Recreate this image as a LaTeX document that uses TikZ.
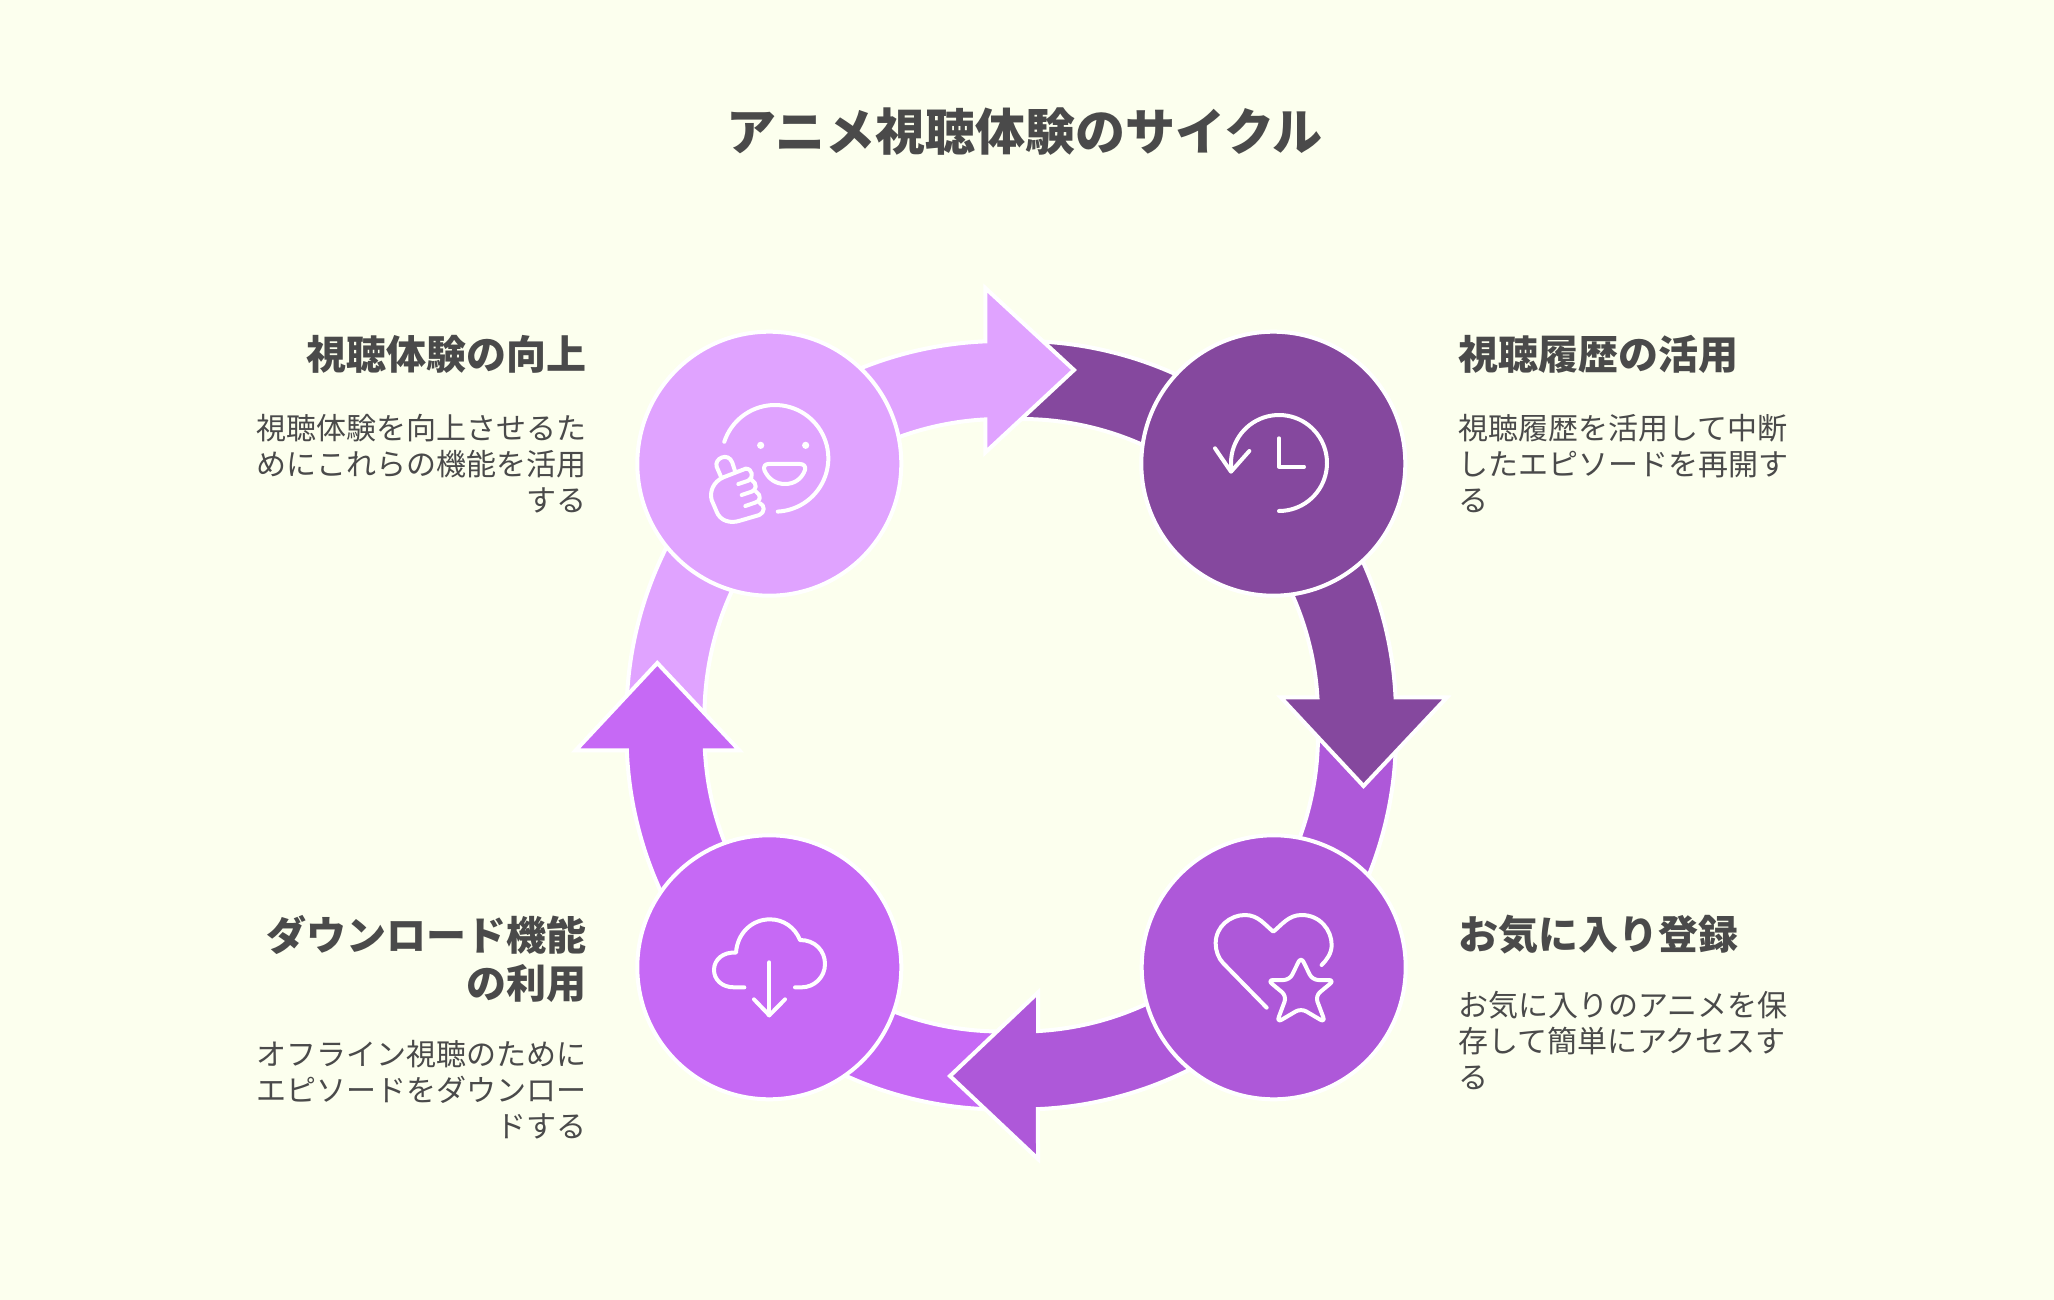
\documentclass[tikz,border=0pt]{standalone}
\usepackage{fontspec}
\newfontfamily\jp{Noto Sans CJK JP}
\definecolor{bgc}{HTML}{FCFFEE}
\definecolor{cLight}{HTML}{E0A3FF}
\definecolor{cDark}{HTML}{85489E}
\definecolor{cMid}{HTML}{AE58D9}
\definecolor{cDeep}{HTML}{C669F5}
\definecolor{ink}{HTML}{4A4A4A}
\newcommand{\ringarc}[5]{plot[domain=#4:#5,samples=50] ({#1+#3*cos(\x)},{#2+#3*sin(\x)})}
\newcommand{\ringto}[5]{-- plot[domain=#4:#5,samples=50] ({#1+#3*cos(\x)},{#2+#3*sin(\x)})}
\tikzset{
  ringshape/.style={draw=white,line width=4pt,line join=miter},
  disc/.style={circle,draw=white,line width=4pt,inner sep=0pt,outer sep=0pt,minimum size=264pt},
  icon/.style={draw=white,line width=4pt,line cap=round,line join=round},
  heading/.style={anchor=north,inner sep=0pt,text=ink,font=\fontsize{40}{48}\selectfont\jp\bfseries},
  bodytext/.style={anchor=north,inner sep=0pt,text=ink,font=\fontsize{30}{36}\selectfont\jp},
}
\begin{document}
\begin{tikzpicture}[x=1pt,y=-1pt]
\useasboundingbox (0,0) rectangle (2054,1300);
\fill[bgc] (0,0) rectangle (2054,1300);
% tails
\draw[ringshape,fill=cLight] \ringarc{1001}{715.5}{374.5}{180}{227} \ringto{1001}{715.5}{296.5}{227}{180} -- cycle;
\draw[ringshape,fill=cDark] \ringarc{1021.5}{715.5}{374.5}{269.5}{315} \ringto{1021.5}{715.5}{296.5}{315}{269.5} -- cycle;
\draw[ringshape,fill=cMid] \ringarc{1021.5}{735}{374.5}{0}{42.6} \ringto{1021.5}{735}{296.5}{42.6}{0} -- cycle;
\draw[ringshape,fill=cDeep] \ringarc{1001}{735}{374.5}{90}{135} \ringto{1001}{735}{296.5}{135}{90} -- cycle;
% heads
\draw[ringshape,fill=cLight] \ringarc{1001}{715.5}{374.5}{227}{267.6} -- (985.3,288) -- (1074,370) -- (985.3,452.5) \ringto{1001}{715.5}{296.5}{266.96}{227} -- cycle;
\draw[ringshape,fill=cDark] \ringarc{1021.5}{715.5}{374.5}{315}{357.22} -- (1447,697.3) -- (1363.5,786) -- (1280.7,697.3) \ringto{1021.5}{715.5}{296.5}{356.48}{315} -- cycle;
\draw[ringshape,fill=cMid] \ringarc{1021.5}{735}{374.5}{42.6}{87.48} -- (1038,1159) -- (950,1076) -- (1038,992.5) \ringto{1021.5}{735}{296.5}{86.81}{42.6} -- cycle;
\draw[ringshape,fill=cDeep] \ringarc{1001}{735}{374.5}{135}{177.66} -- (575.7,750.3) -- (657.3,663) -- (739.3,750.3) \ringto{1001}{735}{296.5}{177.04}{135} -- cycle;
% discs
\node[disc,fill=cLight] (up) at (769.3,463.7) {};
\node[disc,fill=cDark] (hist) at (1273.3,463.7) {};
\node[disc,fill=cMid] (fav) at (1273.7,967.3) {};
\node[disc,fill=cDeep] (dl) at (769.3,967.3) {};
% smiley icon
\begin{scope}[shift={(600,270)},x=0.33333pt,y=-0.33333pt]
\draw[icon] plot[domain=198:447,samples=60] ({525+160*cos(\x)},{565+160*sin(\x)});
\fill[white] (482,526) circle[radius=3.6pt];
\fill[white] (617,526) circle[radius=3.6pt];
\draw[icon] (505,582) -- (600,582) .. controls (612,582) and (618,590) .. (615,600) .. controls (605,628) and (582,642) .. (555,642) .. controls (528,642) and (505,628) .. (493,600) .. controls (490,590) and (495,582) .. (505,582) -- cycle;
\draw[icon] (362,618) -- (350,590) .. controls (342,565) and (385,545) .. (397,578) -- (405,603);
\draw[icon] (437,596) -- (370,622) .. controls (340,635) and (328,665) .. (335,690) -- (350,725) .. controls (360,752) and (390,762) .. (420,752) -- (478,735) .. controls (495,728) and (495,705) .. (480,700);
\draw[icon] (437,596) .. controls (458,595) and (462,625) .. (445,632) -- (415,642);
\draw[icon] (455,630) .. controls (472,640) and (470,660) .. (455,665) -- (425,675);
\draw[icon] (468,665) .. controls (485,675) and (482,695) .. (465,698) -- (436,708);
\end{scope}
% clock icon
\draw[icon] plot[domain=90:-189,samples=60] ({1279+48*cos(\x)},{463+48*sin(\x)});
\draw[icon] (1215,448.3) -- (1231,471.7) -- (1249.3,451);
\draw[icon] (1279,438.3) -- (1279,466.7) -- (1304,466.7);
% heart and star icon
\begin{scope}[shift={(1130,830)},x=0.33333pt,y=-0.33333pt]
\draw[icon] (410,533) -- (280,400) .. controls (265,385) and (257,362) .. (257,340) .. controls (257,290) and (300,255) .. (345,255) .. controls (385,255) and (405,285) .. (430,305) .. controls (455,285) and (475,255) .. (515,255) .. controls (570,255) and (605,300) .. (605,345) .. controls (605,370) and (590,390) .. (575,405);
\draw[icon,rounded corners=6pt] (513,380) -- (547,450) -- (614,450) -- (556,498) -- (586,578) -- (513,535) -- (440,578) -- (470,498) -- (412,450) -- (479,450) -- cycle;
\end{scope}
% cloud icon
\begin{scope}[shift={(630,830)},x=0.33333pt,y=-0.33333pt]
\draw[icon] (343,472) -- (312,472) .. controls (275,472) and (252,448) .. (252,420) .. controls (252,388) and (280,365) .. (318,368) .. controls (322,310) and (365,268) .. (420,268) .. controls (460,268) and (495,292) .. (510,330) .. controls (555,330) and (585,362) .. (585,402) .. controls (585,442) and (552,472) .. (515,472) -- (495,472);
\draw[icon] (418,397) -- (418,556);
\draw[icon] (372,508) -- (418,556) -- (465,508);
\end{scope}
% texts
\node[anchor=center,inner sep=0pt,text=ink,font=\fontsize{50}{60}\selectfont\jp\bfseries] (title) at (1024.5,131.5) {アニメ視聴体験のサイクル};
\node[heading,anchor=north east,align=right] (h1) at (586.5,335.5) {視聴体験の向上};
\node[bodytext,anchor=north east,align=right] (b1) at (586.5,414) {視聴体験を向上させるた\\めにこれらの機能を活用\\する};
\node[heading,anchor=north west,align=left] (h2) at (1458,335.5) {視聴履歴の活用};
\node[bodytext,anchor=north west,align=left] (b2) at (1458,414) {視聴履歴を活用して中断\\したエピソードを再開す\\る};
\node[heading,anchor=north west,align=left] (h3) at (1458,915) {お気に入り登録};
\node[bodytext,anchor=north west,align=left] (b3) at (1458,991.5) {お気に入りのアニメを保\\存して簡単にアクセスす\\る};
\node[heading,anchor=north east,align=right] (h4) at (586.5,915) {ダウンロード機能\\の利用};
\node[bodytext,anchor=north east,align=right] (b4) at (586.5,1040) {オフライン視聴のために\\エピソードをダウンロー\\ドする};
\end{tikzpicture}
\end{document}
